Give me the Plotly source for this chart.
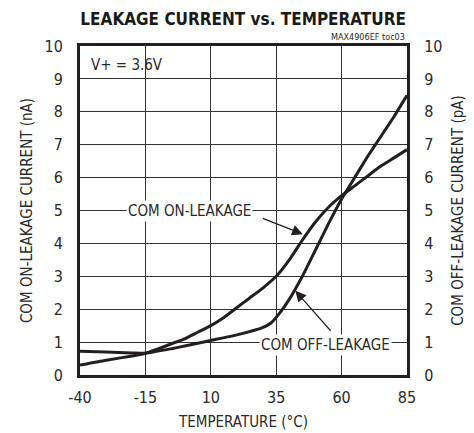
import plotly.graph_objects as go

temp_on = [-40, -30, -20, -15, -5, 0, 5, 10, 15, 20, 25, 30, 35, 40, 45, 50, 55, 60, 65, 70, 75, 80, 85]
on_leak = [0.3, 0.45, 0.58, 0.66, 0.95, 1.1, 1.3, 1.5, 1.75, 2.05, 2.35, 2.65, 3.0, 3.5, 4.1, 4.65, 5.1, 5.45, 5.75, 6.05, 6.35, 6.6, 6.85]

temp_off = [-40, -30, -20, -15, -5, 0, 10, 20, 30, 33, 36, 40, 45, 50, 55, 60, 65, 70, 75, 80, 85]
off_leak = [0.72, 0.70, 0.67, 0.66, 0.8, 0.88, 1.05, 1.22, 1.45, 1.58, 1.85, 2.3, 3.0, 3.8, 4.6, 5.35, 6.0, 6.65, 7.25, 7.85, 8.5]

x_ticks = [-40, -15, 10, 35, 60, 85]
x_tick_labels = ["-40", "-15", "10", "35", "60", "85"]
y_ticks = [0, 1, 2, 3, 4, 5, 6, 7, 8, 9, 10]

FONT = "DejaVu Sans Condensed"
INK = "#231f20"
TXT = "#2a2a2a"

fig = go.Figure()
fig.add_trace(go.Scatter(x=temp_on, y=on_leak, mode="lines", line=dict(color=INK, width=3, shape="spline", smoothing=0.6), showlegend=False, hoverinfo="skip"))
fig.add_trace(go.Scatter(x=temp_off, y=off_leak, mode="lines", line=dict(color=INK, width=3, shape="spline", smoothing=0.4), yaxis="y2", showlegend=False, hoverinfo="skip"))

axis_common = dict(range=[0, 10], tickvals=y_ticks, showgrid=True, gridcolor="#333333", gridwidth=1,
                   showline=True, linecolor=INK, linewidth=3, zeroline=False, ticks="", automargin=False,
                   tickfont=dict(family=FONT, size=16, color=TXT), ticklabelstandoff=11)

fig.update_layout(
    width=474, height=433,
    margin=dict(l=80, r=67, t=46, b=58),
    paper_bgcolor="white", plot_bgcolor="white",
    font=dict(family=FONT, color=TXT),
    title=dict(text="<b>LEAKAGE CURRENT vs. TEMPERATURE</b>", x=0.513, xanchor="center", y=0.955, yanchor="middle",
               font=dict(family=FONT, size=17, color="#1a1a1a")),
    xaxis=dict(range=[-40, 85], tickvals=x_ticks, ticktext=x_tick_labels, showgrid=True, gridcolor="#333333", gridwidth=1,
               showline=True, linecolor=INK, linewidth=3, mirror=True, zeroline=False, ticks="", automargin=False,
               tickfont=dict(family=FONT, size=16, color=TXT), ticklabelstandoff=6,
               title=dict(text="TEMPERATURE (°C)", font=dict(family=FONT, size=15, color=TXT), standoff=11)),
    yaxis=dict(**axis_common, mirror=False,
               title=dict(text="COM ON-LEAKAGE CURRENT (nA)", font=dict(family=FONT, size=15, color=TXT), standoff=9)),
    yaxis2=dict(**axis_common, overlaying="y", side="right",
                title=dict(text="COM OFF-LEAKAGE CURRENT (pA)", font=dict(family=FONT, size=15, color=TXT), standoff=11)),
)

fig.add_annotation(text="MAX4906EF toc03", xref="paper", yref="paper", x=1.0, y=1.0, xanchor="right", yanchor="bottom",
                   yshift=2, showarrow=False, font=dict(family=FONT, size=9, color=TXT))
fig.add_annotation(text="V+ = 3.6V", x=-36.5, y=9.42, xanchor="left", showarrow=False,
                   font=dict(family=FONT, size=15, color=TXT))
fig.add_annotation(text="COM ON-LEAKAGE", x=2, y=4.97, showarrow=False, bgcolor="white",
                   font=dict(family=FONT, size=15, color=TXT), borderpad=1)
fig.add_annotation(text="COM OFF-LEAKAGE", x=53.7, y=0.9, showarrow=False, bgcolor="white",
                   font=dict(family=FONT, size=15, color=TXT), borderpad=1)
fig.add_annotation(text="", x=45.2, y=4.28, ax=29.3, ay=4.78, axref="x", ayref="y",
                   showarrow=True, arrowhead=2, arrowsize=1.8, arrowwidth=1.2, arrowcolor=INK)
fig.add_annotation(text="", x=42.3, y=2.56, ax=56.3, ay=1.3, axref="x", ayref="y",
                   showarrow=True, arrowhead=2, arrowsize=1.8, arrowwidth=1.2, arrowcolor=INK)

fig.write_html("out.html", config={"displayModeBar": False},
               post_script="document.body.style.margin='0';document.body.style.overflow='hidden';")
